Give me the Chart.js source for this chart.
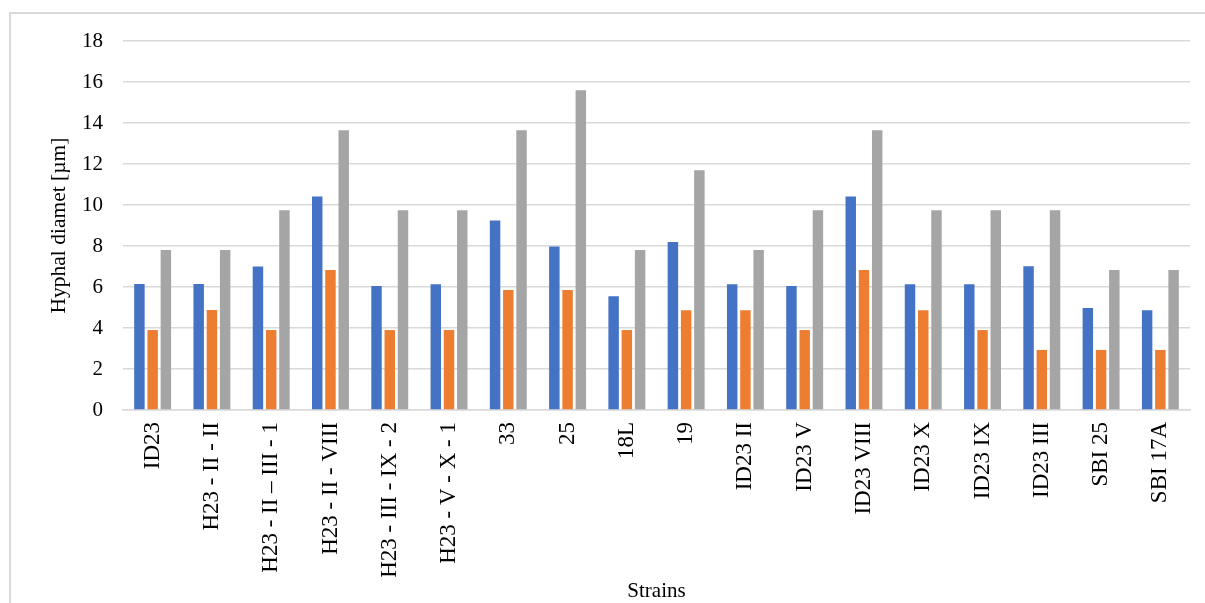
<!DOCTYPE html>
<html>
<head>
<meta charset="utf-8">
<title>Hyphal diameter by strain</title>
<script src="https://cdn.jsdelivr.net/npm/chart.js@4.4.1/dist/chart.umd.min.js"></script>
<style>
  html, body { margin: 0; padding: 0; background: #fff; overflow: hidden; }
  #wrap { position: relative; width: 1205px; height: 603px; }
  /* light frame of the original picture, only top and left show */
  #frame {
    position: absolute; left: 9px; top: 12px; width: 1300px; height: 700px;
    border-top: 2px solid #d9d9d9; border-left: 2px solid #d9d9d9;
  }
  #myChart { position: absolute; left: 0; top: 0; }
</style>
</head>
<body>
<div id="wrap">
  <div id="frame"></div>
  <canvas id="myChart" width="1205" height="603"></canvas>
</div>
<script>
const strains = [
  "ID23", "H23 - II - II", "H23 - II \u2013 III - 1", "H23 - II - VIII",
  "H23 - III - IX - 2", "H23 - V - X - 1", "33", "25", "18L", "19",
  "ID23 II", "ID23 V", "ID23 VIII", "ID23 X", "ID23 IX", "ID23 III",
  "SBI 25", "SBI 17A"
];
const blueValues = [6.15, 6.15, 7.0, 10.42, 6.05, 6.13, 9.25, 7.97, 5.55, 8.19, 6.13, 6.05, 10.42, 6.13, 6.13, 7.01, 4.97, 4.86];
const orangeValues = [3.9, 4.88, 3.9, 6.83, 3.9, 3.9, 5.85, 5.85, 3.9, 4.86, 4.86, 3.9, 6.83, 4.86, 3.9, 2.93, 2.93, 2.93];
const grayValues = [7.8, 7.8, 9.75, 13.65, 9.75, 9.75, 13.65, 15.6, 7.8, 11.7, 7.8, 9.75, 13.65, 9.75, 9.75, 9.75, 6.83, 6.83];

const yMin = 0;
const yMax = 18;
const yStep = 2;

const serif = "'Liberation Serif', 'Times New Roman', serif";
const gridColor = "#d9d9d9";

const datasets = [
  { label: "Series 1", data: blueValues, backgroundColor: "#4472C4" },
  { label: "Series 2", data: orangeValues, backgroundColor: "#ED7D31" },
  { label: "Series 3", data: grayValues, backgroundColor: "#A5A5A5" },
];
datasets.forEach((ds) => {
  ds.categoryPercentage = 0.67;
  ds.barPercentage = 0.79;
  ds.borderWidth = 0;
});

const config = {
  type: "bar",
  data: { labels: strains, datasets: datasets },
  options: {
    responsive: false,
    animation: false,
    layout: { padding: { left: 0, right: 15, top: 41, bottom: 0 } },
    plugins: {
      legend: { display: false },
      tooltip: { enabled: false },
    },
    scales: {
      x: {
        grid: { display: false, drawTicks: false },
        border: { display: true, color: gridColor, width: 1.5 },
        ticks: {
          color: "#000",
          font: { family: serif, size: 23 },
          minRotation: 90,
          maxRotation: 90,
          autoSkip: false,
          padding: 12,
        },
        title: {
          display: true,
          text: "Strains",
          color: "#000",
          font: { family: serif, size: 21 },
          padding: { top: 0, bottom: -1 },
        },
        afterFit: (scale) => {
          scale.height = 193;
        },
      },
      y: {
        min: yMin,
        max: yMax,
        grid: { color: gridColor, lineWidth: 1.5, drawTicks: false },
        border: { display: false },
        ticks: {
          stepSize: yStep,
          color: "#000",
          font: { family: serif, size: 21 },
          padding: 20,
        },
        title: {
          display: true,
          text: "Hyphal diamet [\u00b5m]",
          color: "#000",
          font: { family: serif, size: 21.5 },
          padding: { top: 46, bottom: 0 },
        },
        afterFit: (scale) => {
          scale.width = 123;
        },
      },
    },
  },
};

const chartInstance = new Chart(document.getElementById("myChart"), config);
</script>
</body>
</html>
